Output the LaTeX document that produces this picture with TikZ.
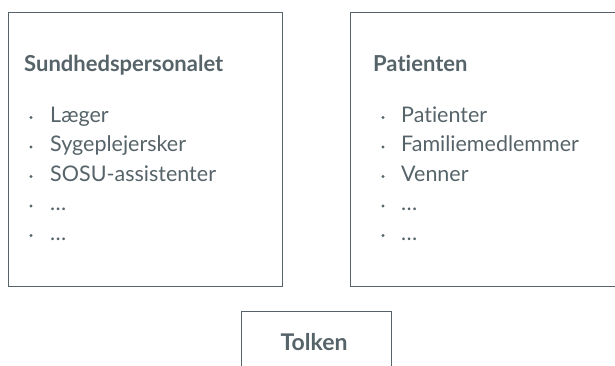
\documentclass[tikz,border=0pt]{standalone}
\usepackage{fontspec}
\setmainfont[Ligatures=NoCommon]{Lato}
\definecolor{ink}{RGB}{86,99,105}
\tikzset{
  frame/.style={draw=ink, line width=1.3pt},
  ttl/.style={anchor=base west, inner sep=0pt, text=ink, font=\fontsize{22}{26}\selectfont\bfseries},
  itm/.style={anchor=base west, inner sep=0pt, text=ink, font=\fontsize{21.5}{25}\selectfont},
  dot/.style={circle, fill=ink, inner sep=0pt, minimum size=3.2pt},
}
\begin{document}
\begin{tikzpicture}[x=1pt,y=-1pt]
\useasboundingbox (0,0) rectangle (615,365);
\begin{scope}
\clip (0,0) rectangle (615,365);
% left box
\node[frame, minimum width=274pt, minimum height=274pt, anchor=north west, inner sep=0pt] (lbox) at (8,12) {};
\node[ttl] (lt) at (24,71) {Sundhedspersonalet};
\foreach \t [count=\i] in {Læger,Sygeplejersker,SOSU-assistenter,…,…}{
  \node[dot] (lb\i) at (31,{122+(\i-1)*29.5-4.5}) {};
  \node[itm] (li\i) at (50,{122+(\i-1)*29.5}) {\t};
}
% right box
\node[frame, minimum width=274pt, minimum height=274pt, anchor=north west, inner sep=0pt] (rbox) at (350,12) {};
\node[ttl] (rt) at (373,71) {Patienten};
\foreach \t [count=\i] in {Patienter,Familiemedlemmer,Venner,…,…}{
  \node[dot] (rb\i) at (383,{122+(\i-1)*29.5-4.5}) {};
  \node[itm] (ri\i) at (401,{122+(\i-1)*29.5}) {\t};
}
% Tolken
\node[frame, minimum width=150pt, minimum height=80pt, anchor=north west, inner sep=0pt] (tbox) at (241,311) {};
\node[anchor=base, inner sep=0pt, text=ink, font=\fontsize{23}{27}\selectfont\bfseries] (tt) at (314,350) {Tolken};
\end{scope}
\end{tikzpicture}
\end{document}
